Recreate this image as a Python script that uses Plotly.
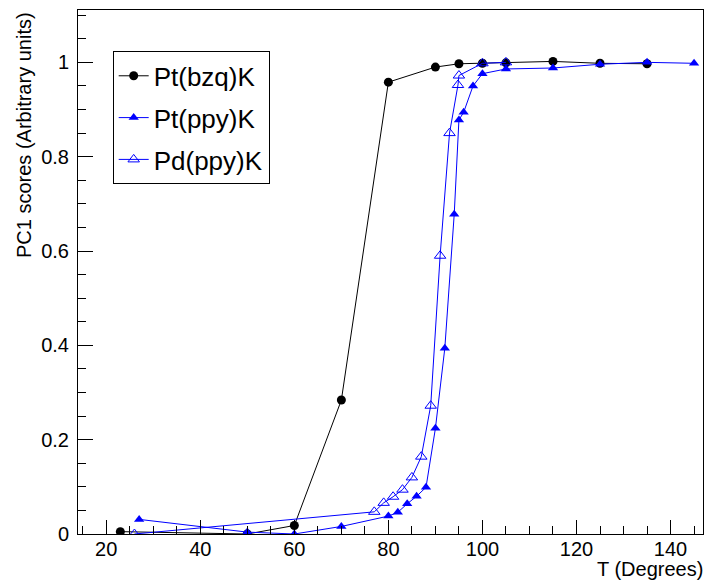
import plotly.graph_objects as go

# ---- data ----
bzq_T = [23, 50, 60, 70, 80, 90, 95, 100, 105, 115, 125, 135]
bzq_pc1 = [0.005, 0.0, 0.018, 0.284, 0.958, 0.990, 0.997, 0.998, 0.999, 1.002, 0.998, 0.997]

pt_ppy_T = [27, 50, 60, 70, 80, 82, 84, 86, 88, 90, 92, 94, 95, 96, 98, 100, 105, 115, 125, 135, 145]
pt_ppy_pc1 = [0.031, 0.004, 0.0, 0.016, 0.038, 0.046, 0.064, 0.080, 0.099, 0.224, 0.394, 0.678,
              0.878, 0.894, 0.950, 0.976, 0.986, 0.988, 0.996, 1.0, 0.998]

pd_ppy_T = [26, 77, 79, 81, 83, 85, 87, 89, 91, 93, 94.8, 95.0, 100, 105]
pd_ppy_pc1 = [0.0, 0.047, 0.066, 0.079, 0.094, 0.120, 0.164, 0.272, 0.590, 0.850, 0.952, 0.972, 0.998, 1.0]

series_names = ["Pt(bzq)K", "Pt(ppy)K", "Pd(ppy)K"]
x_title = "T (Degrees)"
y_title = "PC1 scores (Arbitrary units)"

FONT = "Liberation Sans, Arial, Helvetica, sans-serif"

fig = go.Figure()
fig.add_trace(go.Scatter(x=bzq_T, y=bzq_pc1, mode="lines+markers", name=series_names[0],
                         legendgroup="a",
                         line=dict(color="black", width=1),
                         marker=dict(symbol="circle", size=9, color="black")))
fig.add_trace(go.Scatter(x=pt_ppy_T, y=pt_ppy_pc1, mode="lines+markers", name=series_names[1],
                         legendgroup="b",
                         line=dict(color="#0000ff", width=1),
                         marker=dict(symbol="triangle-up", size=9, color="#0000ff")))
fig.add_trace(go.Scatter(x=pd_ppy_T, y=pd_ppy_pc1, mode="lines+markers", name=series_names[2],
                         legendgroup="c",
                         line=dict(color="#0000ff", width=1),
                         marker=dict(symbol="triangle-up-open", size=10, color="#0000ff",
                                     line=dict(width=1, color="#0000ff"))))

fig.update_layout(
    width=707, height=581,
    margin=dict(l=78, r=4, t=10, b=47),
    paper_bgcolor="white", plot_bgcolor="white",
    font=dict(family=FONT, color="black", size=20),
    showlegend=True,
    legend=dict(x=0.0555, y=0.921, xanchor="left", yanchor="top",
                bgcolor="white", bordercolor="black", borderwidth=1,
                font=dict(size=26, family=FONT, color="black"),
                tracegroupgap=5, itemwidth=30),
    xaxis=dict(range=[14, 146.9], tick0=20, dtick=20, ticks="inside", ticklen=14,
               tickcolor="black", showline=True, linecolor="black", linewidth=1, mirror=True,
               showgrid=False, zeroline=False, tickfont=dict(size=20, family=FONT),
               ticklabelstandoff=-3,
               minor=dict(dtick=5, ticks="inside", ticklen=8, tickcolor="black", showgrid=False)),
    yaxis=dict(range=[0, 1.111], tick0=0, dtick=0.2, ticks="inside", ticklen=15,
               tickcolor="black", showline=True, linecolor="black", linewidth=1, mirror=True,
               showgrid=False, zeroline=False, tickfont=dict(size=20, family=FONT),
               ticklabelstandoff=4,
               minor=dict(dtick=0.05, ticks="inside", ticklen=8, tickcolor="black", showgrid=False)),
    annotations=[
        dict(text=x_title, xref="paper", yref="paper", x=1.003, y=-0.066,
             xanchor="right", yanchor="middle", showarrow=False,
             font=dict(size=20, family=FONT, color="black")),
        dict(text=y_title, xref="paper", yref="paper", x=-0.0864, y=1.0,
             xanchor="center", yanchor="top", textangle=-90, showarrow=False,
             font=dict(size=20, family=FONT, color="black")),
    ],
)

fig.write_html("out.html")
